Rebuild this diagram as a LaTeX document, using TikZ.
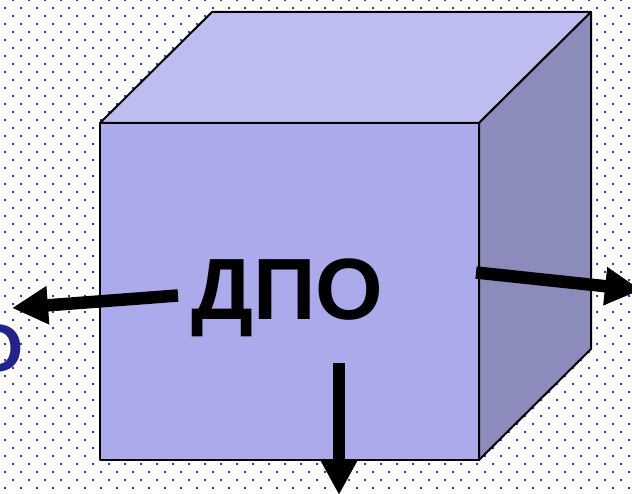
\documentclass[tikz,border=0pt]{standalone}
\usepackage{fontspec}
\setmainfont{Liberation Sans}
\usetikzlibrary{arrows.meta}
\definecolor{dotc}{HTML}{3333CC}
\definecolor{frontc}{HTML}{ABABEB}
\definecolor{topc}{HTML}{BDBDF0}
\definecolor{sidec}{HTML}{8B8BBC}
\definecolor{letterc}{HTML}{22228B}
\tikzset{
  face/.style={draw=black, line width=2pt, line join=round},
  bigarrow/.style={line width=12.5pt, -{Triangle[length=36pt,width=36pt]}},
}
\begin{document}
\begin{tikzpicture}[x=1pt,y=-1pt]
\useasboundingbox (0,0) rectangle (632,494);
\begin{scope}
\clip (0,0) rectangle (632,494);
\fill[white] (0,0) rectangle (632,494);
\foreach \m in {0,...,31}{
  \foreach \j in {0,...,39}{
    \fill[dotc] (12+16*\j,16*\m-1) rectangle ++(2,2);
    \fill[dotc] (4+16*\j,16*\m+7) rectangle ++(2,2);
  }
}
% partial letter at left edge
\node[anchor=base east, inner sep=0pt, text=letterc, font=\bfseries\fontsize{67}{67}\selectfont] (o) at (23.5,371) {О};
% cube
\filldraw[face, fill=topc] (100,123) -- (212,12) -- (591,12) -- (479,123) -- cycle;
\filldraw[face, fill=sidec] (479,123) -- (591,12) -- (591,349) -- (479,460) -- cycle;
\filldraw[face, fill=frontc] (100,123) rectangle (479,460);
% label
\node[anchor=base, inner sep=0pt, font=\bfseries\fontsize{87}{87}\selectfont] (t) at (287.5,320) {ДПО};
% arrow ends
\coordinate (ls) at (178,295.5);
\coordinate (le) at (12,308);
\coordinate (rs) at (476,272.5);
\coordinate (re) at (641,290);
\coordinate (ds) at (339,363);
\coordinate (de) at (339,495);
\draw[bigarrow] (ls) -- (le);
\draw[bigarrow] (rs) -- (re);
\draw[bigarrow] (ds) -- (de);
\end{scope}
\end{tikzpicture}
\end{document}
